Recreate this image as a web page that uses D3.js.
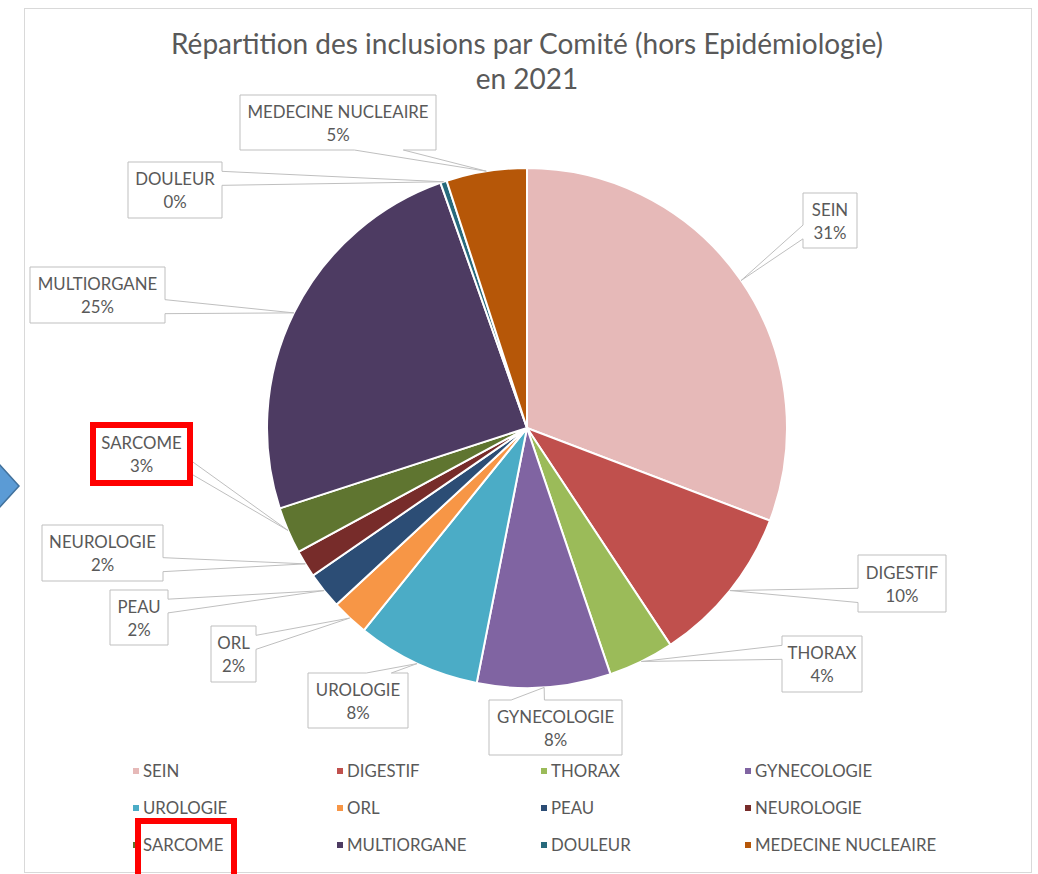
<!DOCTYPE html>
<html>
<head>
<meta charset="utf-8">
<script src="https://cdn.jsdelivr.net/npm/d3@7"></script>
<style>
  body { margin: 0; background: #fff; }
  text { font-family: Lato, "Open Sans", sans-serif; fill: #595959; }
</style>
</head>
<body>
<script>
// Data (share of inclusions, %)
const categories = ["SEIN", "DIGESTIF", "THORAX", "GYNECOLOGIE", "UROLOGIE", "ORL",
  "PEAU", "NEUROLOGIE", "SARCOME", "MULTIORGANE", "DOULEUR", "MEDECINE NUCLEAIRE"];
const shares = [30.8, 9.9, 4.1, 8.3, 7.7, 2.3, 2.3, 1.7, 2.9, 24.6, 0.4, 5.0];
const colors = ["#e6b9b8", "#c0504d", "#9bbb59", "#8064a2", "#4bacc6", "#f79646",
  "#2c4d75", "#772c2a", "#5f7530", "#4d3b62", "#276a7c", "#b65708"];
const titleLines = ["Répartition des inclusions par Comité (hors Epidémiologie)", "en 2021"];

// Label box layout (left, top, width, height), as Excel placed them
const labelBoxes = {
  "SEIN": [803, 193, 54, 55],
  "DIGESTIF": [858, 555, 88, 57],
  "THORAX": [782, 636, 80, 56],
  "GYNECOLOGIE": [489, 700, 133, 55],
  "UROLOGIE": [308, 673, 100, 55],
  "ORL": [211, 626, 45, 56],
  "PEAU": [110, 590, 58, 55],
  "NEUROLOGIE": [42, 525, 121, 56],
  "SARCOME": [95, 427, 93, 54],
  "MULTIORGANE": [30, 267, 135, 56],
  "DOULEUR": [128, 162, 94, 56],
  "MEDECINE NUCLEAIRE": [240, 95, 196, 55]
};

const width = 1038, height = 874;
const cx = 527, cy = 428, radius = 260;
const labelSize = 16.8;

const data = categories.map((c, i) => ({ name: c, value: shares[i], color: colors[i] }));

let svg = d3.select("body").append("svg")
    .attr("width", width)
    .attr("height", height);

// chart area border
svg.append("rect")
    .attr("x", 24.5).attr("y", 8.5)
    .attr("width", 1007).attr("height", 864)
    .attr("fill", "#fff")
    .attr("stroke", "#d9d9d9");

// Title
svg.append("g").selectAll("text")
    .data(titleLines)
    .join("text")
    .attr("x", cx)
    .attr("y", (d, i) => 54 + i * 35)
    .attr("text-anchor", "middle")
    .attr("font-size", 28)
    .text(d => d);

// Pie
const pie = d3.pie().sort(null).value(d => d.value);
const arcs = pie(data);
const arc = d3.arc().innerRadius(0).outerRadius(radius);

let group_pie = svg.append("g")
    .attr("transform", `translate(${cx},${cy})`);
group_pie.selectAll("path")
    .data(arcs)
    .join("path")
    .attr("d", arc)
    .attr("fill", d => d.data.color)
    .attr("stroke", "#fff")
    .attr("stroke-width", 2);

// Callout shape like Excel's wedgeRectCallout
function calloutPath(l, t, w, h, tx, ty) {
  const r = l + w, b = t + h;
  const dx = (tx - (l + w / 2)) / w, dy = (ty - (t + h / 2)) / h;
  const vertical = Math.abs(dy) > Math.abs(dx);
  let p = d3.path();
  p.moveTo(l, t);
  if (vertical) {
    const [a1, a2] = dx > 0 ? [7 / 12, 10 / 12] : [2 / 12, 5 / 12];
    if (dy < 0) { p.lineTo(l + w * a1, t); p.lineTo(tx, ty); p.lineTo(l + w * a2, t); }
    p.lineTo(r, t); p.lineTo(r, b);
    if (dy > 0) { p.lineTo(l + w * a2, b); p.lineTo(tx, ty); p.lineTo(l + w * a1, b); }
    p.lineTo(l, b);
  } else {
    const [a1, a2] = dy > 0 ? [7 / 12, 10 / 12] : [2 / 12, 5 / 12];
    p.lineTo(r, t);
    if (dx > 0) { p.lineTo(r, t + h * a1); p.lineTo(tx, ty); p.lineTo(r, t + h * a2); }
    p.lineTo(r, b); p.lineTo(l, b);
    if (dx < 0) { p.lineTo(l, t + h * a2); p.lineTo(tx, ty); p.lineTo(l, t + h * a1); }
  }
  p.closePath();
  return p.toString();
}

let group_labels = svg.append("g");
arcs.forEach(d => {
  const [l, t, w, h] = labelBoxes[d.data.name];
  const mid = (d.startAngle + d.endAngle) / 2;
  const tx = cx + radius * Math.sin(mid), ty = cy - radius * Math.cos(mid);
  group_labels.append("path")
      .attr("d", calloutPath(l, t, w, h, tx, ty))
      .attr("fill", "#fff")
      .attr("stroke", "#bfbfbf")
      .attr("stroke-width", 1);
  group_labels.append("text")
      .attr("x", l + w / 2).attr("y", t + h / 2 - 5)
      .attr("text-anchor", "middle")
      .attr("font-size", labelSize)
      .text(d.data.name);
  group_labels.append("text")
      .attr("x", l + w / 2).attr("y", t + h / 2 + 18)
      .attr("text-anchor", "middle")
      .attr("font-size", labelSize)
      .text(Math.round(d.data.value) + "%");
});

// Legend: 4 columns x 3 rows
const legendX = d3.scalePoint().domain([0, 1, 2, 3]).range([133, 745]);
const legendY = d3.scalePoint().domain([0, 1, 2]).range([771, 845]);
let legend = svg.append("g").selectAll("g")
    .data(data)
    .join("g")
    .attr("transform", (d, i) => `translate(${legendX(i % 4)},${legendY(Math.floor(i / 4))})`);
legend.append("rect")
    .attr("x", 0).attr("y", -3)
    .attr("width", 6).attr("height", 6)
    .attr("fill", d => d.color);
legend.append("text")
    .attr("x", 10).attr("y", 6)
    .attr("font-size", labelSize)
    .text(d => d.name);

// Annotations drawn over the screenshot
svg.append("rect")
    .attr("x", 93).attr("y", 425).attr("width", 97).attr("height", 58)
    .attr("fill", "none").attr("stroke", "#ff0000").attr("stroke-width", 6);
svg.append("rect")
    .attr("x", 138).attr("y", 821).attr("width", 96).attr("height", 60)
    .attr("fill", "none").attr("stroke", "#ff0000").attr("stroke-width", 6);
svg.append("path")
    .attr("d", "M-2,463 L19,486 L-2,509 Z")
    .attr("fill", "#5b9bd5").attr("stroke", "#41719c").attr("stroke-width", 1.5);
</script>
</body>
</html>
